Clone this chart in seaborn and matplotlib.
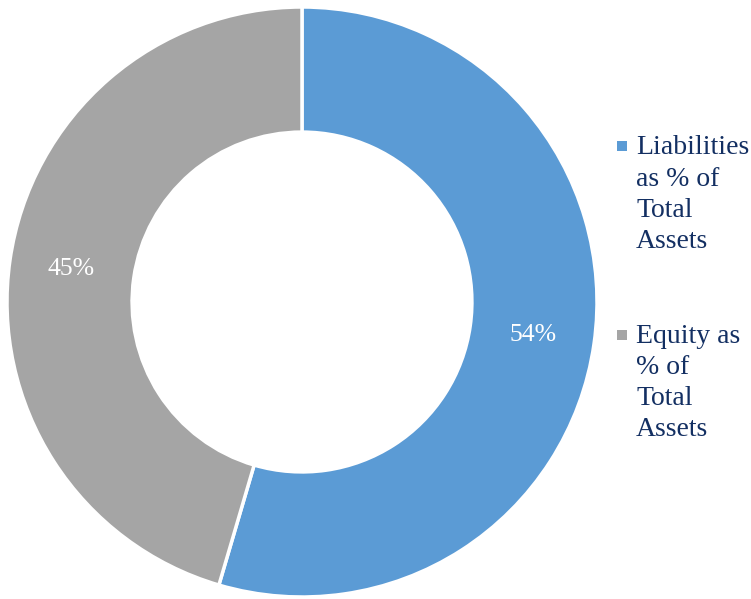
import seaborn as sns
import matplotlib.pyplot as plt
from matplotlib.patches import Rectangle
from matplotlib.legend_handler import HandlerPatch

labels = ["Liabilities\nas % of\nTotal\nAssets", "Equity as\n% of\nTotal\nAssets"]
values = [54, 45]
colors = ["#5B9BD5", "#A5A5A5"]

sns.set_style("white")
plt.rcParams["font.family"] = "serif"
plt.rcParams["font.serif"] = ["Liberation Serif", "DejaVu Serif"]

dpi = 100
fig = plt.figure(figsize=(751 / dpi, 599 / dpi), dpi=dpi)
ax = fig.add_axes([7 / 751, 2 / 599, 590 / 751, 590 / 599])

total = sum(values)
wedges, _, autotexts = ax.pie(
    values, colors=colors, startangle=90, counterclock=False,
    autopct=lambda p: f"{p * total / 100:.0f}%", pctdistance=0.79,
    wedgeprops=dict(width=0.424, edgecolor="white", linewidth=2.5),
    textprops=dict(color="white", fontsize=18.5),
)
ax.set_xlim(-1, 1)
ax.set_ylim(-1, 1)
ax.set_aspect("equal")

leg_fs = 20
line_sp = 1.32


def top_square(legend, orig_handle, xdescent, ydescent, width, height, fontsize):
    # square next to the first line of a 4-line label
    s = 7.2
    y = -ydescent + height / 2 + 1.5 * line_sp * 0.9 * fontsize - s / 2 - 1
    return Rectangle((-xdescent, y), s, s)


leg = fig.legend(
    wedges, labels, loc="center left", bbox_to_anchor=(617 / 751, 0.518),
    frameon=False, fontsize=leg_fs, handlelength=0.36, handletextpad=0.33,
    labelspacing=2.52, borderpad=0, borderaxespad=0,
    handler_map={w: HandlerPatch(patch_func=top_square) for w in wedges},
)
for h in leg.legend_handles:
    h.set_linewidth(0)
for t in leg.get_texts():
    t.set_color("#132F62")
    t.set_linespacing(line_sp)

fig.savefig("out.png", dpi=dpi)
